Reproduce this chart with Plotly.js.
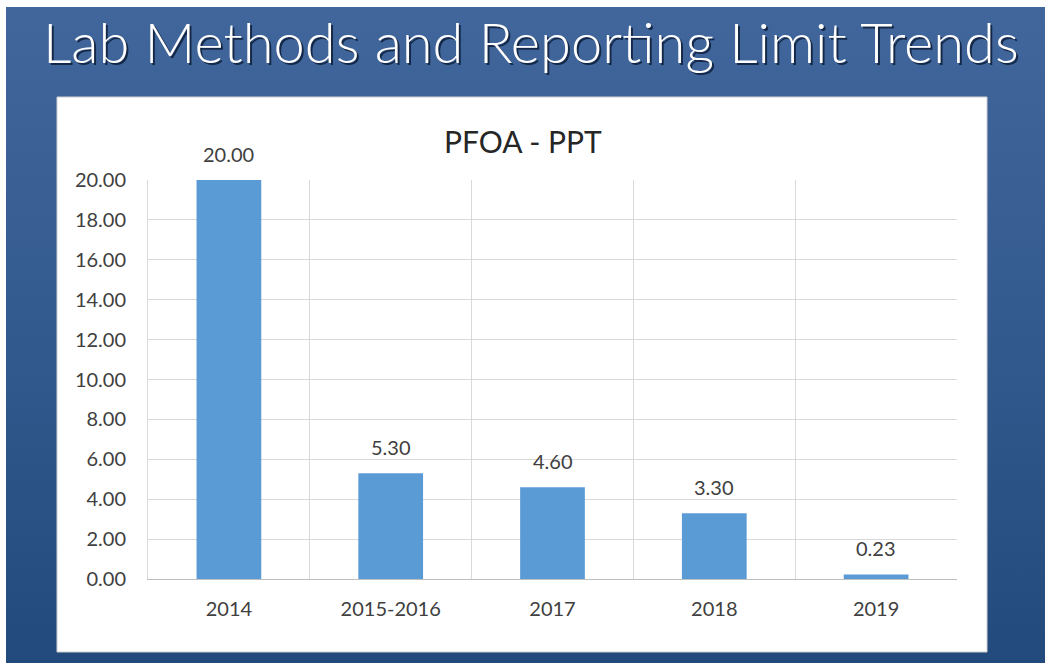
<!DOCTYPE html>
<html>
<head>
<meta charset="utf-8">
<script src="https://cdn.plot.ly/plotly-3.0.1.min.js"></script>
<style>
  html, body { margin: 0; padding: 0; background: #ffffff; width: 1045px; height: 663px; overflow: hidden; }
  #bg { position: absolute; left: 6px; top: 7px; width: 1039px; height: 656px;
        background: linear-gradient(to bottom, #41669c 0%, #335a8e 50%, #224a7c 100%); }
  #chart { position: absolute; left: 0; top: 0; width: 1045px; height: 663px; }
</style>
</head>
<body>
<div id="bg"></div>
<div id="chart"></div>
<script>
const categories = ["2014", "2015-2016", "2017", "2018", "2019"];
const values = [20.00, 5.30, 4.60, 3.30, 0.23];
const valueLabels = ["20.00", "5.30", "4.60", "3.30", "0.23"];
const yTickVals = [0, 2, 4, 6, 8, 10, 12, 14, 16, 18, 20];
const yTickText = ["0.00", "2.00", "4.00", "6.00", "8.00", "10.00", "12.00", "14.00", "16.00", "18.00", "20.00"];
const mainTitle = "Lab Methods and Reporting Limit Trends";
const chartTitle = "PFOA - PPT";

const W = 1045, H = 663;
const m = { l: 148, r: 88, t: 180, b: 84 };
const pw = W - m.l - m.r, ph = H - m.t - m.b;
const px = x => (x - m.l) / pw;
const py = y => (H - m.b - y) / ph;

const font = "Lato, 'Open Sans', sans-serif";

const trace = {
  type: "bar",
  x: categories,
  y: values,
  marker: { color: "#5B9BD5" },
  width: 0.4,
  hoverinfo: "skip"
};

const labelAnnotations = categories.map((c, i) => ({
  x: i, y: values[i], xref: "x", yref: "y",
  text: valueLabels[i], showarrow: false,
  yanchor: "bottom", yshift: 12,
  font: { family: font, size: 20, color: "#404040" }
}));

const layout = {
  width: W, height: H,
  margin: m,
  paper_bgcolor: "rgba(0,0,0,0)",
  plot_bgcolor: "rgba(0,0,0,0)",
  showlegend: false,
  xaxis: {
    type: "category",
    categoryorder: "array", categoryarray: categories,
    range: [-0.5, 4.5],
    tickson: "boundaries",
    showgrid: true, gridcolor: "#D9D9D9", gridwidth: 1,
    showline: true, linecolor: "#BFBFBF", linewidth: 1,
    ticks: "", ticklen: 0,
    ticklabelstandoff: 12,
    tickangle: 0,
    tickfont: { family: font, size: 20, color: "#404040" },
    fixedrange: true
  },
  yaxis: {
    range: [0, 20],
    tickvals: yTickVals, ticktext: yTickText,
    showgrid: true, gridcolor: "#D9D9D9", gridwidth: 1,
    zeroline: false,
    showline: true, linecolor: "#D9D9D9", linewidth: 1,
    ticks: "",
    ticklabelstandoff: 17,
    tickfont: { family: font, size: 20, color: "#404040" },
    fixedrange: true
  },
  shapes: [{
    type: "rect", xref: "paper", yref: "paper", layer: "below",
    x0: px(57), x1: px(987), y0: py(652), y1: py(97),
    fillcolor: "#FFFFFF", line: { color: "#D0D0D0", width: 1 }
  }],
  annotations: [
    { xref: "paper", yref: "paper", x: px(531), y: py(42), xshift: 2, yshift: -2,
      text: mainTitle, showarrow: false, xanchor: "center", yanchor: "middle",
      font: { family: font, size: 56, weight: 300, color: "rgba(10,25,50,0.8)" } },
    { xref: "paper", yref: "paper", x: px(531), y: py(42),
      text: mainTitle, showarrow: false, xanchor: "center", yanchor: "middle",
      font: { family: font, size: 56, weight: 300, color: "#FFFFFF" } },
    { xref: "paper", yref: "paper", x: px(523), y: py(141),
      text: chartTitle, showarrow: false, xanchor: "center", yanchor: "middle",
      font: { family: font, size: 30, color: "#262626" } }
  ].concat(labelAnnotations)
};

Plotly.newPlot("chart", [trace], layout, { displayModeBar: false, staticPlot: true });
</script>
</body>
</html>
